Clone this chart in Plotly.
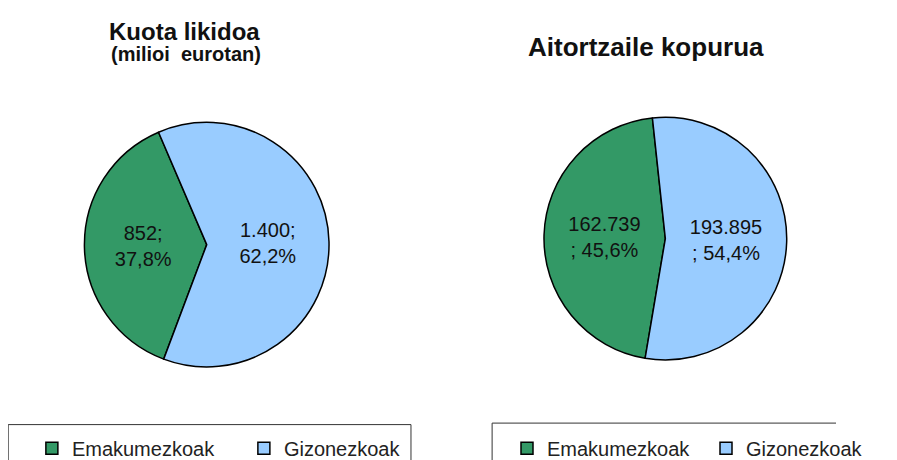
import plotly.graph_objects as go

# ---- data ----
labels = ["Emakumezkoak", "Gizonezkoak"]
labels_right = ["Emakumezkoak\u200b", "Gizonezkoak\u200b"]  # same names, kept distinct for the 2nd legend
kuota_values = [852, 1400]          # milioi eurotan
aitortzaile_values = [162739, 193895]
title_left = "Kuota likidoa"
subtitle_left = "(milioi&nbsp;&nbsp;eurotan)"
title_right = "Aitortzaile kopurua"

colors = ["#339966", "#99CCFF"]
W, H = 897, 460
font_fam = "Liberation Sans, Arial, sans-serif"

# mapping from the photographed picture to figure pixels (page margin + fit scaling)
SX, OX = 0.9671, 8.3
SY, OY = 0.98, 7.0
S = (SX + SY) / 2


def vx(X):
    return (X - OX) / SX


def vy(Y):
    return (Y - OY) / SY


def px(X):
    return min(1.0, max(0.0, vx(X) / W))


def py(Y):
    return min(1.0, max(0.0, 1 - vy(Y) / H))


def pie_domain(cx, cy, r):
    cxf, cyf, rf = vx(cx), vy(cy), r / S
    return dict(x=[(cxf - rf) / W, (cxf + rf) / W], y=[1 - (cyf + rf) / H, 1 - (cyf - rf) / H])


fig = go.Figure()

common = dict(
    sort=False,
    direction="clockwise",
    marker=dict(colors=colors, line=dict(color="#000000", width=1.5)),
    textposition="inside",
    insidetextorientation="horizontal",
    insidetextfont=dict(family=font_fam, size=20, color="#111111"),
    hoverinfo="label+value+percent",
)

fig.add_trace(go.Pie(
    labels=labels,
    values=kuota_values,
    rotation=-159.4,
    texttemplate="%{value:,};<br>%{percent:.1%}",
    domain=pie_domain(216.5, 243, 129),
    legend="legend",
    **common,
))

fig.add_trace(go.Pie(
    labels=labels_right,
    values=aitortzaile_values,
    rotation=-170.4,
    texttemplate="%{value:,}<br>; %{percent:.1%}",
    domain=pie_domain(697, 237, 128),
    legend="legend2",
    **common,
))

legend_common = dict(
    orientation="h",
    yanchor="middle",
    xanchor="left",
    y=py(446),
    bgcolor="rgba(0,0,0,0)",
    borderwidth=0,
    font=dict(family=font_fam, size=20, color="#222222"),
    entrywidthmode="pixels",
)


def open_box(x0, x1, ytop):
    """Legend frame whose lower part runs off the picture (no bottom edge)."""
    a, b, t = px(x0), px(x1), py(ytop)
    if x1 >= W:
        path = f"M {a},0 L {a},{t} L {b},{t}"
    else:
        path = f"M {a},0 L {a},{t} L {b},{t} L {b},0"
    return dict(type="path", xref="paper", yref="paper", path=path,
                line=dict(color="#333333", width=1), fillcolor="rgba(0,0,0,0)")


fig.update_layout(
    width=W, height=H,
    autosize=False,
    margin=dict(l=0, r=0, t=0, b=0),
    paper_bgcolor="white",
    plot_bgcolor="white",
    separators=",.",
    font=dict(family=font_fam, color="#000000"),
    legend=dict(x=(vx(72) - 40) / W, entrywidth=167, **legend_common),
    legend2=dict(x=(vx(570) - 40) / W, entrywidth=154, **legend_common),
    annotations=[
        dict(text="<b>" + title_left + "</b>", x=px(193), y=py(30), xref="paper", yref="paper",
             xanchor="center", yanchor="middle", showarrow=False,
             font=dict(family=font_fam, size=24, color="#111111")),
        dict(text="<b>" + subtitle_left + "</b>", x=px(195), y=py(53), xref="paper", yref="paper",
             xanchor="center", yanchor="middle", showarrow=False,
             font=dict(family=font_fam, size=20, color="#111111")),
        dict(text="<b>" + title_right + "</b>", x=px(677), y=py(46), xref="paper", yref="paper",
             xanchor="center", yanchor="middle", showarrow=False,
             font=dict(family=font_fam, size=26, color="#111111")),
    ],
    shapes=[
        open_box(8.5, 430.5, 422.5),
        open_box(515.5, 2000, 421),
    ],
)

fig.write_html("out.html", config={"displayModeBar": False})
